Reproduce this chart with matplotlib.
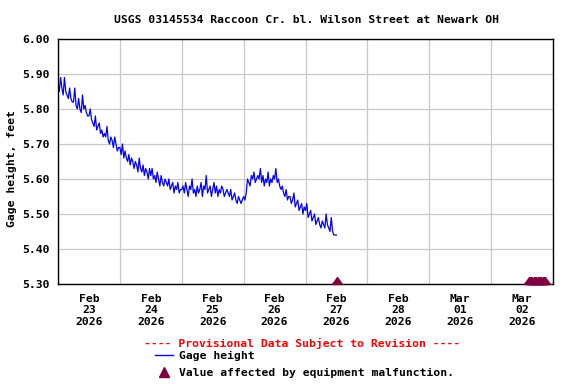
import matplotlib
matplotlib.use("Agg")
import matplotlib.pyplot as plt
import matplotlib.dates as mdates
from matplotlib.lines import Line2D
import numpy as np
import pandas as pd

# gage height, hundredths of a foot above 5.00 ft, every 30 min from Feb 23 00:00
gage_hundredths = [
    86, 85, 89, 86, 84, 89, 85, 84, 83, 86, 83, 82,
    82, 86, 81, 80, 83, 80, 79, 84, 80, 81, 79, 78,
    78, 80, 77, 76, 75, 78, 74, 75, 76, 73, 74, 72,
    73, 72, 75, 71, 70, 72, 71, 69, 72, 70, 68, 69,
    69, 67, 70, 66, 68, 66, 65, 67, 64, 66, 65, 63,
    65, 64, 62, 66, 63, 62, 64, 61, 63, 62, 60, 63,
    61, 63, 60, 61, 59, 62, 60, 58, 61, 59, 58, 60,
    59, 58, 60, 57, 58, 59, 56, 58, 57, 59, 56, 57,
    57, 58, 56, 59, 57, 55, 58, 57, 60, 56, 57, 55,
    58, 56, 57, 59, 55, 58, 57, 61, 56, 57, 58, 55,
    57, 59, 56, 58, 55, 57, 56, 58, 57, 55, 56, 57,
    56, 55, 57, 54, 55, 56, 54, 53, 55, 54, 53, 54,
    55, 54, 56, 60, 59, 58, 61, 60, 62, 59, 60, 61,
    60, 63, 59, 61, 58, 60, 59, 62, 58, 60, 59, 61,
    60, 63, 59, 60, 58, 57, 58, 56, 55, 57, 54, 55,
    55, 53, 54, 56, 52, 53, 54, 51, 52, 53, 50, 52,
    51, 53, 49, 50, 51, 48, 49, 50, 47, 48, 49, 47,
    46, 48, 47, 46, 50, 47, 46, 45, 49, 45, 44, 44,
    44,
]
gage_times = pd.date_range("2026-02-23 00:00", periods=len(gage_hundredths), freq="30min")
gage_height = 5.0 + np.array(gage_hundredths) / 100.0

# equipment malfunction flags
flag_times = pd.DatetimeIndex(["2026-02-27 12:15"]).append(
    pd.date_range("2026-03-02 14:30", "2026-03-02 21:00", freq="30min"))

title = "USGS 03145534 Raccoon Cr. bl. Wilson Street at Newark OH"
ylabel = "Gage height, feet"
y_ticks = [5.30, 5.40, 5.50, 5.60, 5.70, 5.80, 5.90, 6.00]

font = "DejaVu Sans Mono"
fs = 8.2
maroon = "#7f0040"

plt.rcParams["font.family"] = font
plt.rcParams["font.weight"] = "bold"
plt.rcParams["font.size"] = fs

fig = plt.figure(figsize=(5.76, 3.84), dpi=100)
ax = fig.add_axes([58 / 576, 1 - 284 / 384, 495 / 576, 245 / 384])

ax.plot(gage_times, gage_height, color="#0000ff", lw=0.9)

# triangle with its base on the axis line
tri = [(-1, 0), (1, 0), (0, 1.4), (-1, 0)]
ax.plot(flag_times, np.full(len(flag_times), 5.30), ls="none", marker=tri,
        ms=10, color=maroon, clip_on=False, zorder=5)

ax.set_xlim(pd.Timestamp("2026-02-23"), pd.Timestamp("2026-03-03"))
ax.set_ylim(5.30, 6.00)
ax.set_yticks(y_ticks)
ax.set_yticklabels([f"{v:.2f}" for v in y_ticks])

ax.xaxis.set_major_locator(mdates.DayLocator())
ax.xaxis.set_major_formatter(plt.NullFormatter())
ax.xaxis.set_minor_locator(mdates.HourLocator(byhour=12))
ax.xaxis.set_minor_formatter(mdates.DateFormatter("%b\n%d\n%Y"))
ax.tick_params(axis="x", which="both", length=0, pad=7)
ax.tick_params(axis="y", length=0, pad=6)
for lab in ax.get_xticklabels(minor=True):
    lab.set_fontweight("bold")

ax.grid(True, which="major", color="#c8c8c8", lw=0.9)
ax.set_axisbelow(True)
for s in ax.spines.values():
    s.set_color("black")
    s.set_linewidth(1.0)

fig.text(306 / 576, 1 - 20 / 384, title, ha="center", va="center", fontsize=fs)
fig.text(12 / 576, 1 - 169 / 384, ylabel, rotation=90, ha="center", va="center", fontsize=fs)
fig.text(302 / 576, 1 - 343 / 384, "---- Provisional Data Subject to Revision ----",
         color="red", ha="center", va="center", fontsize=fs)

handles = [Line2D([], [], color="#0000ff", lw=1.0),
           Line2D([], [], ls="none", marker="^", ms=7, color=maroon)]
fig.legend(handles, ["Gage height", "Value affected by equipment malfunction."],
           loc="upper left", bbox_to_anchor=(155 / 576, 1 - 351 / 384),
           frameon=False, fontsize=fs, handlelength=1.6, handletextpad=0.55,
           labelspacing=0.65, borderpad=0, borderaxespad=0)

fig.savefig("out.png", dpi=100)
